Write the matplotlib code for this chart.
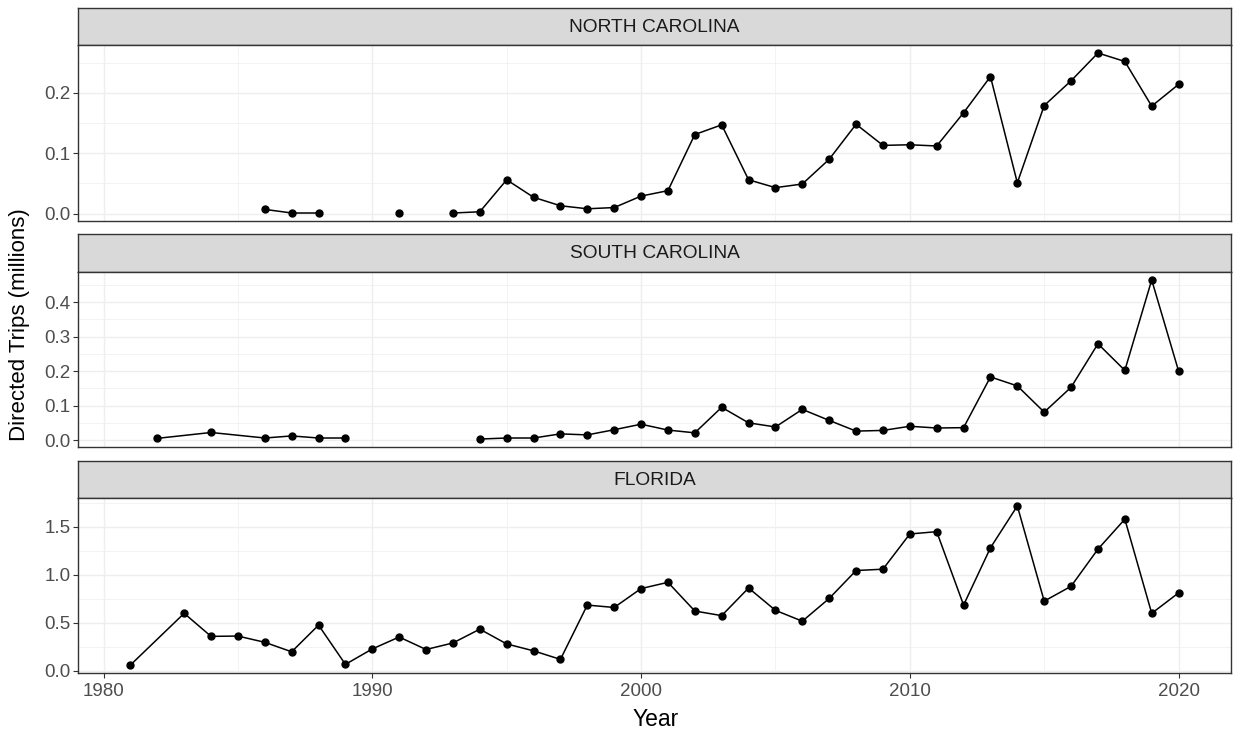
import numpy as np
import matplotlib.pyplot as plt
from matplotlib.ticker import MultipleLocator, FormatStrFormatter

nan = np.nan

# --- data (millions of directed trips), NaN = gap in the line ---
nc_years = [1986, 1987, 1988, 1990, 1991, 1992, 1993, 1994, 1995, 1996, 1997, 1998, 1999,
            2000, 2001, 2002, 2003, 2004, 2005, 2006, 2007, 2008, 2009,
            2010, 2011, 2012, 2013, 2014, 2015, 2016, 2017, 2018, 2019, 2020]
nc_trips = [0.007, 0.001, 0.001, nan, 0.001, nan, 0.001, 0.003, 0.056, 0.027, 0.013, 0.008, 0.010,
            0.029, 0.038, 0.131, 0.147, 0.056, 0.043, 0.049, 0.090, 0.148, 0.113,
            0.114, 0.112, 0.167, 0.227, 0.051, 0.179, 0.220, 0.266, 0.252, 0.178, 0.214]

sc_years = [1982, 1984, 1986, 1987, 1988, 1989, 1990, 1994, 1995, 1996, 1997, 1998, 1999,
            2000, 2001, 2002, 2003, 2004, 2005, 2006, 2007, 2008, 2009,
            2010, 2011, 2012, 2013, 2014, 2015, 2016, 2017, 2018, 2019, 2020]
sc_trips = [0.005, 0.022, 0.006, 0.012, 0.006, 0.006, nan, 0.003, 0.006, 0.006, 0.018, 0.015, 0.030,
            0.046, 0.029, 0.021, 0.095, 0.050, 0.038, 0.089, 0.057, 0.026, 0.028,
            0.040, 0.035, 0.036, 0.183, 0.157, 0.081, 0.153, 0.279, 0.202, 0.464, 0.200]

fl_years = [1981, 1983, 1984, 1985, 1986, 1987, 1988, 1989, 1990, 1991, 1992, 1993, 1994,
            1995, 1996, 1997, 1998, 1999, 2000, 2001, 2002, 2003, 2004, 2005, 2006,
            2007, 2008, 2009, 2010, 2011, 2012, 2013, 2014, 2015, 2016, 2017, 2018, 2019, 2020]
fl_trips = [0.058, 0.597, 0.357, 0.360, 0.295, 0.196, 0.474, 0.065, 0.226, 0.350, 0.220, 0.288, 0.432,
            0.278, 0.206, 0.117, 0.683, 0.658, 0.855, 0.920, 0.621, 0.573, 0.861, 0.628, 0.515,
            0.752, 1.043, 1.057, 1.424, 1.448, 0.683, 1.280, 1.716, 0.724, 0.879, 1.266, 1.578, 0.597, 0.810]

states = ["NORTH CAROLINA", "SOUTH CAROLINA", "FLORIDA"]
series = [(nc_years, nc_trips), (sc_years, sc_trips), (fl_years, fl_trips)]
y_major = [0.1, 0.1, 0.5]

plt.rcParams["font.family"] = ["Liberation Sans", "DejaVu Sans"]

W, H = 1236, 731
fig = plt.figure(figsize=(W / 100, H / 100), dpi=100)

# pixel layout (top of strip, bottom of strip, bottom of panel)
left_px, right_px = 78, 1231
rows = [(8, 45, 221), (234, 272, 447), (461, 498, 673)]

all_years = np.concatenate([np.array(y, dtype=float) for y, _ in series])
x_lo, x_hi = all_years.min(), all_years.max()
x_pad = 0.05 * (x_hi - x_lo)

dark = "#333333"
grid_col = "#EEEEEE"

for i, (state, (yrs, vals), step) in enumerate(zip(states, series, y_major)):
    s_top, s_bot, p_bot = rows[i]
    x0 = left_px / W
    w = (right_px - left_px) / W

    # strip
    sax = fig.add_axes([x0, 1 - s_bot / H, w, (s_bot - s_top) / H])
    sax.set_facecolor("#D9D9D9")
    sax.set_xticks([])
    sax.set_yticks([])
    for sp in sax.spines.values():
        sp.set_color(dark)
        sp.set_linewidth(1.0)
    sax.text(0.5, 0.48, state, ha="center", va="center", fontsize=13.8, color="#1A1A1A",
             transform=sax.transAxes)

    # panel
    ax = fig.add_axes([x0, 1 - p_bot / H, w, (p_bot - s_bot) / H])
    yrs = np.array(yrs, dtype=float)
    vals = np.array(vals, dtype=float)
    ax.plot(yrs, vals, color="black", linewidth=1.1, zorder=3)
    ax.plot(yrs, vals, "o", color="black", markersize=5, zorder=4)

    v_lo, v_hi = np.nanmin(vals), np.nanmax(vals)
    v_pad = 0.05 * (v_hi - v_lo)
    ax.set_ylim(v_lo - v_pad, v_hi + v_pad)
    ax.set_xlim(x_lo - x_pad, x_hi + x_pad)

    ax.yaxis.set_major_locator(MultipleLocator(step))
    ax.yaxis.set_minor_locator(MultipleLocator(step / 2))
    ax.yaxis.set_major_formatter(FormatStrFormatter("%.1f"))
    ax.xaxis.set_major_locator(MultipleLocator(10))
    ax.xaxis.set_minor_locator(MultipleLocator(5))

    ax.grid(which="major", color=grid_col, linewidth=1.0, zorder=0)
    ax.grid(which="minor", color=grid_col, linewidth=0.5, zorder=0)
    ax.set_axisbelow(True)

    for sp in ax.spines.values():
        sp.set_color(dark)
        sp.set_linewidth(1.0)

    ax.tick_params(axis="y", which="major", length=3.5, width=0.8, color=dark,
                   labelsize=13.5, labelcolor="#4D4D4D", pad=2)
    ax.tick_params(which="minor", length=0)
    if i < 2:
        ax.tick_params(axis="x", which="major", length=0, labelbottom=False)
    else:
        ax.tick_params(axis="x", which="major", length=3.5, width=0.8, color=dark,
                       labelsize=13.5, labelcolor="#4D4D4D", pad=4)

fig.text(656 / W, 1 - 719 / H, "Year", ha="center", va="center", fontsize=16.5, color="black")
fig.text(20 / W, 1 - 325 / H, "Directed Trips (millions)", ha="center", va="center",
         rotation=90, fontsize=16, color="black")

fig.savefig("out.png", dpi=100)
